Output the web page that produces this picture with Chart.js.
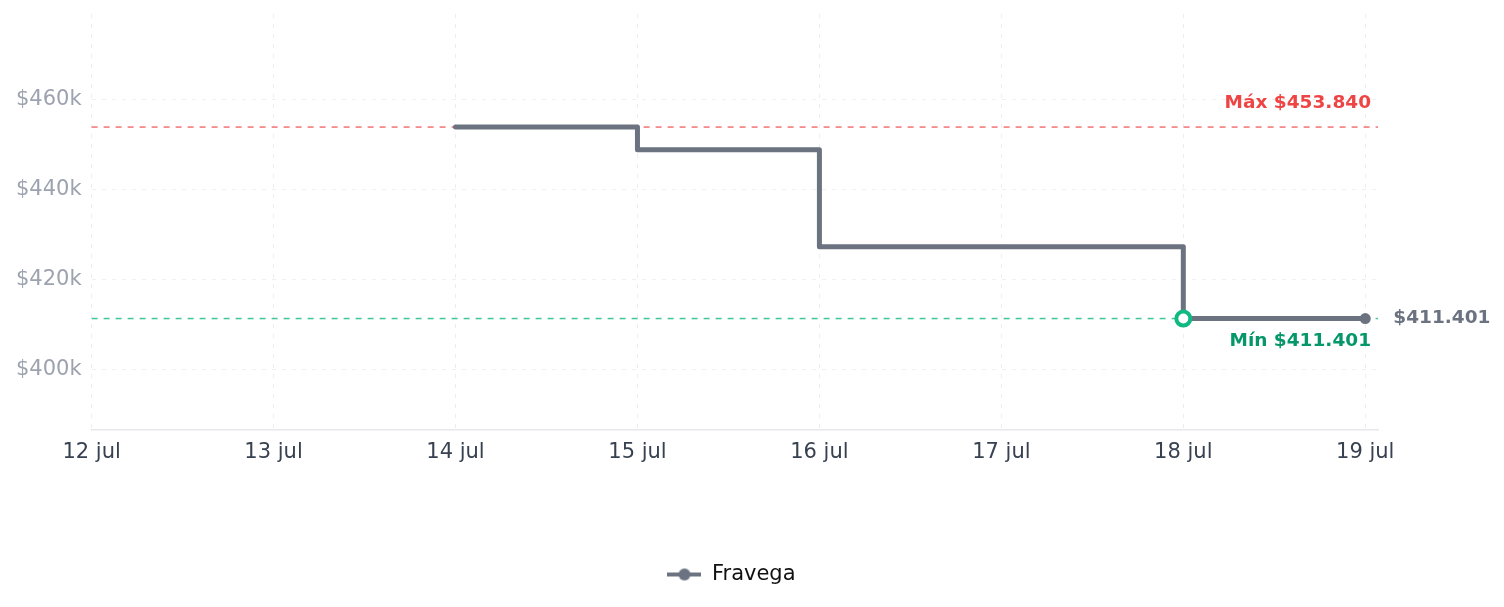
<!DOCTYPE html>
<html>
<head>
<meta charset="utf-8">
<script src="https://cdn.jsdelivr.net/npm/chart.js@4"></script>
<style>
  html, body { margin: 0; padding: 0; background: #fff; }
  #wrap { width: 1504px; height: 607px; }
</style>
</head>
<body>
<div id="wrap"><canvas id="priceChart"></canvas></div>
<script>
// data
const dates = ['12 jul', '13 jul', '14 jul', '15 jul', '16 jul', '17 jul', '18 jul', '19 jul'];
const fravega = [null, null, 453840, 448800, 427300, 427300, 411401, 411401];
const yTicks = [400000, 420000, 440000, 460000];

const maxPrice = 453840;
const minPrice = 411401;
const minIndex = fravega.indexOf(minPrice);
const lastIndex = fravega.length - 1;

const GREY = '#6b7280';

function money(v) {
    return '$' + v.toLocaleString('es-AR');
}

// legend marker: a short line with a dot in the middle
const legendMark = document.createElement('canvas');
legendMark.width = 34;
legendMark.height = 14;
(function () {
    const c = legendMark.getContext('2d');
    c.strokeStyle = GREY;
    c.lineWidth = 4;
    c.beginPath();
    c.moveTo(0, 7);
    c.lineTo(34, 7);
    c.stroke();
    c.fillStyle = GREY;
    c.beginPath();
    c.arc(17, 7, 6, 0, Math.PI * 2);
    c.fill();
})();

// dashed max / min lines with their labels
const refLines = {
    id: 'refLines',
    beforeDatasetsDraw(chart) {
        const { ctx, chartArea, scales } = chart;
        const lines = [[maxPrice, 'rgba(239, 68, 68, 0.75)'], [minPrice, 'rgba(16, 185, 129, 0.8)']];
        ctx.save();
        ctx.lineWidth = 1.5;
        ctx.setLineDash([6, 6]);
        lines.forEach(([v, color]) => {
            const y = scales.y.getPixelForValue(v);
            ctx.strokeStyle = color;
            ctx.beginPath();
            ctx.moveTo(chartArea.left, y);
            ctx.lineTo(chartArea.right, y);
            ctx.stroke();
        });
        ctx.restore();
    },
    afterDatasetsDraw(chart) {
        const { ctx, chartArea, scales } = chart;
        const yMax = scales.y.getPixelForValue(maxPrice);
        const yMin = scales.y.getPixelForValue(minPrice);
        ctx.save();
        ctx.font = 'bold 18.5px "DejaVu Sans"';
        ctx.textBaseline = 'middle';
        ctx.textAlign = 'right';
        ctx.fillStyle = '#ef4444';
        ctx.fillText('Máx ' + money(maxPrice), chartArea.right - 7, yMax - 24);
        ctx.fillStyle = '#059669';
        ctx.fillText('Mín ' + money(minPrice), chartArea.right - 7, yMin + 23);

        const xLast = scales.x.getPixelForValue(lastIndex);
        const yLast = scales.y.getPixelForValue(fravega[lastIndex]);
        ctx.textAlign = 'left';
        ctx.fillStyle = GREY;
        ctx.fillText(money(fravega[lastIndex]), xLast + 28, yLast);
        ctx.restore();
    }
};

Chart.defaults.font.family = '"DejaVu Sans"';
Chart.defaults.font.size = 21;

const ctx = document.getElementById('priceChart').getContext('2d');
const priceChart = new Chart(ctx, {
    type: 'line',
    data: {
        datasets: [{
            label: 'Fravega',
            data: fravega.map((v, i) => ({ x: i, y: v })),
            borderColor: GREY,
            backgroundColor: GREY,
            borderWidth: 5,
            stepped: true,
            spanGaps: false,
            borderJoinStyle: 'round',
            borderCapStyle: 'round',
            pointRadius: c => c.dataIndex === minIndex ? 7 : (c.dataIndex === lastIndex ? 5.5 : 0),
            pointBackgroundColor: c => c.dataIndex === minIndex ? '#ffffff' : GREY,
            pointBorderColor: c => c.dataIndex === minIndex ? '#10b981' : GREY,
            pointBorderWidth: c => c.dataIndex === minIndex ? 4 : 0,
            pointHoverRadius: 0
        }]
    },
    options: {
        responsive: true,
        maintainAspectRatio: false,
        animation: false,
        layout: { padding: { top: 14, left: 6, right: 47, bottom: 12 } },
        scales: {
            x: {
                type: 'linear',
                min: 0,
                max: 7.07,
                afterFit: s => { s.height = 124; },
                ticks: {
                    stepSize: 1,
                    includeBounds: false,
                    maxRotation: 0,
                    color: '#374151',
                    padding: 10,
                    callback: v => Number.isInteger(v) ? dates[v] : ''
                },
                grid: { color: '#eeeeee', drawTicks: false },
                border: { display: true, color: '#e5e7eb', width: 1.5, dash: [4, 6] }
            },
            y: {
                min: 386700,
                max: 478900,
                afterBuildTicks: s => { s.ticks = yTicks.map(v => ({ value: v })); },
                afterFit: s => { s.paddingTop = 0; s.paddingBottom = 0; },
                ticks: {
                    color: '#9ca3af',
                    padding: 10,
                    callback: v => '$' + (v / 1000) + 'k'
                },
                grid: { color: '#f0f0f0', drawTicks: false },
                border: { display: false, dash: [4, 6] }
            },
            // empty right-hand space for the last-price label
            side: {
                position: 'right',
                afterFit: s => { s.width = 79; s.paddingTop = 0; s.paddingBottom = 0; },
                ticks: { display: false },
                grid: { display: false, drawOnChartArea: false },
                border: { display: false }
            }
        },
        plugins: {
            legend: {
                position: 'bottom',
                labels: {
                    usePointStyle: true,
                    pointStyle: legendMark,
                    pointStyleWidth: 34,
                    color: '#111111',
                    padding: 10
                }
            },
            tooltip: { enabled: false }
        }
    },
    plugins: [refLines]
});
</script>
</body>
</html>
